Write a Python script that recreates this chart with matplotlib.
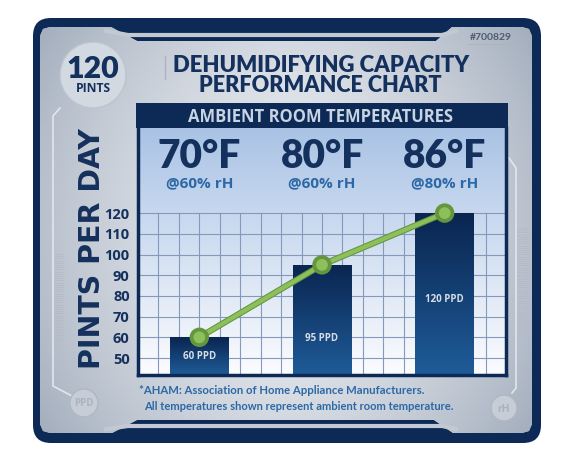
import numpy as np
import matplotlib
matplotlib.use("Agg")
import matplotlib.pyplot as plt
import matplotlib.font_manager as fm
from matplotlib.font_manager import FontProperties
from matplotlib.patches import FancyBboxPatch, Polygon, Rectangle, Circle
from matplotlib.colors import LinearSegmentedColormap
import matplotlib.patheffects as pe

# ---------------- data ----------------
temperatures = ["70°F", "80°F", "86°F"]
humidity = ["@60% rH", "@60% rH", "@80% rH"]
values = [60, 95, 120]
bar_labels = ["60 PPD", "95 PPD", "120 PPD"]
yticks = [50, 60, 70, 80, 90, 100, 110, 120]
ytick_labels = ["50", "60", "70", "80", "90", "100", "110", "120"]

# ---------------- font selection ----------------
def _w(f):
    w = f.weight
    if isinstance(w, str):
        w = fm.weight_dict.get(w, 400)
    return int(w)

def pick_font(families, minw, maxw=1000, condensed=None):
    for fam in families:
        cands = []
        for f in fm.fontManager.ttflist:
            if f.name != fam or f.style != "normal":
                continue
            st = str(f.stretch)
            low = f.fname.lower()
            is_cond = ("condensed" in st) or ("narrow" in low) or ("condensed" in low)
            if condensed is True and not is_cond:
                continue
            if condensed is False and is_cond:
                continue
            w = _w(f)
            if minw <= w <= maxw:
                cands.append((w, f.fname))
        if cands:
            cands.sort()
            return cands[-1][1]
    return None

HEAVY_F = pick_font(["Lato", "Open Sans", "Roboto", "Inter", "Noto Sans"], 800, condensed=False)
BOLD_F = pick_font(["Open Sans", "Lato", "Roboto", "Noto Sans"], 600, 720, condensed=False)
LATO_B = pick_font(["Lato", "Open Sans"], 600, 720, condensed=False)

def fp(path, size, fallback_weight="bold"):
    if path:
        return FontProperties(fname=path, size=size)
    return FontProperties(family="DejaVu Sans", weight=fallback_weight, size=size)

# ---------------- styling ----------------
W, H = 588, 471
NAVY = "#0c2a55"
TITLE = "#14305c"
BLUE_TXT = "#2c68a6"
GREEN = "#8dc05b"
GREEN_DARK = "#64953f"

fig = plt.figure(figsize=(W / 100, H / 100), dpi=100)
fig.patch.set_facecolor("white")

bg = fig.add_axes([0, 0, 1, 1], zorder=0)
bg.set_xlim(0, W)
bg.set_ylim(H, 0)
bg.axis("off")

fits = []  # (text, target size in px, 'w' or 'h')

# outer navy rounded frame
bg.add_patch(FancyBboxPatch((33, 18), 508, 425,
                            boxstyle="round,pad=0,rounding_size=18",
                            fc=NAVY, ec="none", zorder=1))

# inner gray panel with notches
panel_pts = [(40, 36), (43, 29), (50, 27), (111, 27), (137, 41), (436, 41),
             (452, 27), (522, 27), (529, 29), (532, 36),
             (532, 424), (529, 431), (522, 433), (453, 433), (434, 420),
             (137, 420), (112, 433), (50, 433), (43, 431), (40, 424)]
panel = Polygon(panel_pts, closed=True, fc="#c9d0d9", ec="none", zorder=2)
bg.add_patch(panel)
gx = np.linspace(-1, 1, 300)
gy = np.linspace(-1, 1, 200)
GX, GY = np.meshgrid(gx, gy)
shade = 1 - 0.55 * np.abs(GX) ** 1.6 - 0.25 * np.abs(GY) ** 2
cmap_panel = LinearSegmentedColormap.from_list("p", ["#a3aebd", "#e6e9ee"])
im = bg.imshow(shade, cmap=cmap_panel, extent=(40, 532, 433, 27),
               aspect="auto", zorder=2.1, interpolation="bilinear")
im.set_clip_path(panel)

# highlight stripes in the notches
bg.plot([104, 128, 442, 458], [30.5, 35, 35, 30.5], color="#c3c9d2", lw=3,
        zorder=2.2, solid_capstyle="butt")
bg.plot([104, 128, 442, 458], [429.5, 426, 426, 429.5], color="#c3c9d2", lw=3,
        zorder=2.2, solid_capstyle="butt")

# faint inner outline lines and side rails
bg.plot([60, 53, 53, 72], [108, 116, 386, 396], color="#e2e6ec", lw=1.2, zorder=2.3)
bg.plot([509, 516, 516, 512], [158, 168, 388, 393], color="#e2e6ec", lw=1.2, zorder=2.3)
for yy in np.arange(254, 340, 2.2):
    bg.plot([55, 63], [yy, yy], color="#b3bcc8", lw=0.6, zorder=2.3)
for yy in np.arange(228, 337, 2.2):
    bg.plot([517, 528], [yy, yy], color="#b3bcc8", lw=0.6, zorder=2.3)

# 120 PINTS badge
bg.add_patch(Circle((93, 75), 33, fc="#d3d9e0", ec="#bcc4ce", lw=1.0, zorder=3))
t = bg.text(93, 69, "120", ha="center", va="center", color=TITLE,
            fontproperties=fp(HEAVY_F, 21, "heavy"), zorder=4)
fits.append((t, 53, "w"))
t = bg.text(93, 89, "PINTS", ha="center", va="center", color=TITLE,
            fontproperties=fp(BOLD_F, 8), zorder=4)
fits.append((t, 35, "w"))

# small id
t = bg.text(491, 37, "#700829", ha="center", va="center", color="#4d5b6e",
            fontproperties=fp(LATO_B, 7, "normal"), zorder=4)
fits.append((t, 42, "w"))
bg.plot([468, 514], [44, 44], color="#aab3bf", lw=0.6, zorder=4)

# title
bg.plot([165, 165], [56, 79], color="#aab3bf", lw=1, zorder=4)
t = bg.text(321.5, 66, "DEHUMIDIFYING CAPACITY", ha="center", va="center",
            color=TITLE, fontproperties=fp(HEAVY_F, 15.5, "heavy"), zorder=4)
fits.append((t, 297, "w"))
t = bg.text(320.5, 86, "PERFORMANCE CHART", ha="center", va="center",
            color=TITLE, fontproperties=fp(HEAVY_F, 15.5, "heavy"), zorder=4)
fits.append((t, 243, "w"))

# header band of the chart box
bg.add_patch(Rectangle((136, 103), 372, 25, fc=NAVY, ec="none", zorder=4))
t = bg.text(320.5, 117, "AMBIENT ROOM TEMPERATURES", ha="center", va="center",
            color="#c9d4e2", fontproperties=fp(BOLD_F, 11.5), zorder=5)
fits.append((t, 265, "w"))

# vertical axis title (wide heavy face, like the original)
bg.text(92, 249, "PINTS PER DAY", ha="center", va="center", rotation=90,
        color=TITLE, family="DejaVu Sans", fontweight="bold", fontsize=20.5, zorder=4)

# footnote
t1 = bg.text(139, 391, "*AHAM: Association of Home Appliance Manufacturers.", ha="left",
             va="center", color=BLUE_TXT, fontproperties=fp(LATO_B, 8), zorder=4)
fits.append((t1, 287, "w"))
t2 = bg.text(144, 406, "All temperatures shown represent ambient room temperature.",
             ha="left", va="center", color=BLUE_TXT, fontproperties=fp(LATO_B, 8), zorder=4)
fits.append((t2, 310, "w"))

# corner badges
bg.add_patch(Circle((84, 403), 14, fc="#c6cdd6", ec="#aeb7c3", lw=1, zorder=3))
bg.text(84, 404, "PPD", ha="center", va="center", color="#aab3bf",
        fontproperties=fp(BOLD_F, 7), zorder=4)
bg.add_patch(Circle((504, 408), 13, fc="#c6cdd6", ec="#aeb7c3", lw=1, zorder=3))
bg.text(504, 409, "rH", ha="center", va="center", color="#aab3bf",
        fontproperties=fp(BOLD_F, 7.5), zorder=4)

# ---------------- chart axes ----------------
Y0, Y1 = 41.8, 161.1
ax = fig.add_axes([138 / W, 1 - 375 / H, 368 / W, 247 / H], zorder=2)
ax.set_xlim(-0.5, 2.5)
ax.set_ylim(Y0, Y1)

# background gradient
cmap_bg = LinearSegmentedColormap.from_list(
    "b", [(0, "#fbfcfe"), (0.35, "#dfe8f5"), (0.75, "#bfd2ec"), (1, "#a9c2e4")])
grad = np.linspace(0, 1, 256).reshape(-1, 1)
ax.imshow(grad, cmap=cmap_bg, extent=(-0.5, 2.5, Y0, Y1), origin="lower",
          aspect="auto", zorder=0, interpolation="bilinear")

# grid
for v in yticks:
    ax.plot([-0.5, 2.5], [v, v], color="#8499bb", lw=0.8, zorder=1)
for k in range(1, 18):
    xv = -0.5 + k / 6
    ax.plot([xv, xv], [Y0, yticks[-1]], color="#8499bb", lw=0.8, zorder=1)

# bars with gradient
x = np.arange(len(values))
bars = ax.bar(x, values, width=0.48, color=NAVY, zorder=2)
cmap_bar = LinearSegmentedColormap.from_list("bar", ["#1f5c99", "#0a2550"])
for b in bars:
    bx, bw, bh = b.get_x(), b.get_width(), b.get_height()
    gi = ax.imshow(grad, cmap=cmap_bar, extent=(bx, bx + bw, Y0, bh), origin="lower",
                   aspect="auto", zorder=2.5, interpolation="bilinear")
    gi.set_clip_path(b)

label_y = [50.5, 59.5, 78.5]
for xi, lab, ly in zip(x, bar_labels, label_y):
    ax.text(xi, ly, lab, ha="center", va="center", color="#d7dde6",
            fontproperties=fp(BOLD_F, 7), zorder=3)

# green line
ax.plot(x, values, color=GREEN, lw=3, marker="o", ms=9.5, mfc=GREEN, mec=GREEN_DARK,
        mew=1.0, zorder=5, solid_capstyle="round",
        path_effects=[pe.Stroke(linewidth=4.5, foreground=GREEN_DARK), pe.Normal()])

# temperature headings
for xi, tt, hmd in zip(x, temperatures, humidity):
    ax.text(xi, 147.3, tt, ha="center", va="center", color=TITLE,
            fontproperties=fp(HEAVY_F, 28, "heavy"), zorder=4)
    ax.text(xi, 134.5, hmd, ha="center", va="center", color=BLUE_TXT,
            fontproperties=fp(BOLD_F, 11), zorder=4)

# axes styling
ax.set_xticks([])
ax.set_yticks(yticks)
ax.set_yticklabels(ytick_labels)
ax.tick_params(axis="y", length=0, pad=6, labelcolor=TITLE)
for lab in ax.get_yticklabels():
    lab.set_fontproperties(fp(BOLD_F, 10.5))
for s in ax.spines.values():
    s.set_color(NAVY)
    s.set_linewidth(2.5)
ax.spines["top"].set_visible(False)

# fit selected texts to the measured extents of the reference
fig.canvas.draw()
r = fig.canvas.get_renderer()
for txt, target, dim in fits:
    bb = txt.get_window_extent(r)
    cur = bb.width if dim == "w" else bb.height
    if cur > 0:
        txt.set_fontsize(txt.get_fontsize() * target / cur)

fig.savefig("out.png", dpi=100, facecolor="white")
